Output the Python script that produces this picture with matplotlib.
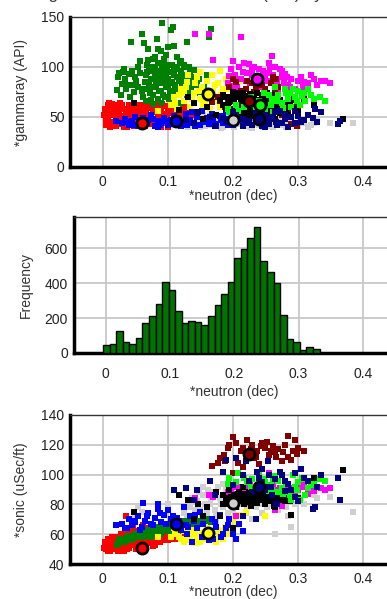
import matplotlib
matplotlib.use("Agg")
import matplotlib.pyplot as plt
import numpy as np

plt.rcParams['font.family'] = ['Liberation Sans', 'DejaVu Sans']

# ---------------- data ----------------
# point clouds per class: (neutron, gammaray, sonic)
red_pts = [(0.005,42,50),(0.005,48,53),(0.008,55,56),(0.010,60,52),(0.010,64,55),(0.012,45,49),(0.015,52,51),
           (0.018,58,57),(0.020,41,50),(0.020,62,54),(0.022,47,58),(0.025,55,52),(0.028,50,60),(0.030,43,55),
           (0.032,58,53),(0.035,46,62),(0.036,53,72),(0.038,40,57),(0.040,57,51),(0.042,49,60),(0.045,44,54),
           (0.047,55,64),(0.050,60,56),(0.052,42,52),(0.055,51,62),(0.057,62,58),(0.060,46,51),(0.062,55,66),
           (0.065,41,55),(0.067,59,60),(0.070,49,54),(0.072,64,62),(0.075,44,57),(0.077,56,52),(0.080,61,64),
           (0.082,47,56),(0.085,53,60),(0.087,42,55),(0.090,58,62),(0.092,63,57),(0.095,45,59),(0.097,51,63),
           (0.100,56,56),(0.102,60,61),(0.105,43,58),(0.107,54,65),(0.110,49,57),(0.112,58,60),(0.115,62,63),
           (0.118,52,59),(0.120,46,61),(0.125,55,58),(0.130,50,62),(0.135,57,60),(0.140,53,64),(0.015,63,58),
           (0.030,62,50),(0.060,40,53),(0.045,61,59),(0.090,40,58),(0.002,52,51),(0.003,58,55),
           (0.006,45,54),(0.009,50,49),(0.013,57,53),(0.016,61,50),(0.019,44,56),(0.023,52,49),(0.026,59,55),
           (0.029,46,51),(0.033,40,49),(0.034,51,56),(0.037,56,50),(0.041,45,58),(0.044,53,53),(0.046,59,61),
           (0.049,41,55),(0.051,48,50),(0.054,57,59),(0.056,44,53),(0.059,52,57),(0.061,60,55),(0.064,47,60),
           (0.066,54,52),(0.069,62,58),(0.071,43,56),(0.074,51,61),(0.076,59,55),(0.079,45,59),(0.081,55,53),
           (0.084,62,57),(0.086,48,61),(0.089,56,55),(0.091,44,60),(0.094,53,56),(0.096,61,62),(0.099,48,57),
           (0.101,40,60),(0.104,57,59),(0.106,63,57),(0.109,46,61),(0.111,53,64),(0.114,42,60),(0.117,59,62),
           (0.119,55,57),(0.122,50,63),(0.127,60,61),(0.132,47,59),(0.138,52,62),(0.012,40,52),(0.027,64,53),
           (0.040,62,57),(0.008,62,57),(0.068,46,64),(0.058,49,61)]
blue_pts = [(0.030,44,67),(0.035,48,64),(0.040,42,70),(0.045,46,66),(0.050,50,68),(0.055,41,72),(0.060,45,65),
            (0.062,49,81),(0.065,43,69),(0.070,47,74),(0.075,52,67),(0.080,41,71),(0.085,46,77),(0.090,44,68),
            (0.095,49,73),(0.100,42,76),(0.105,47,70),(0.110,51,66),(0.112,44,68),(0.115,48,71),(0.120,41,63),
            (0.125,45,78),(0.128,53,66),(0.130,42,60),(0.135,47,72),(0.138,55,55),(0.140,44,69),(0.145,50,64),
            (0.150,42,75),(0.152,56,58),(0.155,46,67),(0.160,49,62),(0.163,43,56),(0.168,53,70),(0.170,47,57),
            (0.175,41,65),(0.180,51,73),(0.185,44,60),(0.190,55,64),(0.195,48,70),(0.200,42,60),(0.205,46,57),
            (0.210,50,67),(0.215,44,62),(0.085,40,80),(0.020,46,66),
            (0.038,45,64),(0.048,42,69),(0.058,47,63),(0.068,44,72),(0.078,48,66),(0.088,42,74),(0.098,46,67),
            (0.108,43,72),(0.118,47,69),(0.132,44,65),(0.142,41,73),(0.158,45,60),(0.172,43,68),(0.182,47,58),
            (0.192,42,66)]
green_pts = [(0.092,144,63),(0.108,140,66),(0.105,137,64),(0.167,138,68),(0.164,130,70),(0.060,133,60),
             (0.044,125,58),(0.064,124,61),(0.083,128,62),(0.110,121,65),(0.130,125,68),(0.090,116,63),
             (0.097,112,64),(0.077,108,61),(0.070,107,60),(0.058,106,59),(0.120,106,66),(0.133,100,67),
             (0.140,97,69),(0.031,95,56),(0.024,90,54),(0.030,83,57),(0.022,77,53),(0.028,72,55),(0.040,93,58),
             (0.045,96,57),(0.038,82,59),(0.055,80,60),(0.067,66,62),(0.077,63,60),(0.062,70,58),(0.065,85,61),
             (0.068,95,63),(0.070,78,59),(0.072,100,62),(0.075,88,64),(0.078,72,61),(0.080,94,60),(0.082,82,63),
             (0.085,104,65),(0.085,68,62),(0.088,90,61),(0.090,76,64),(0.092,98,66),(0.094,86,62),(0.096,70,63),
             (0.098,92,65),(0.100,80,67),(0.100,102,64),(0.103,74,66),(0.105,95,63),(0.107,85,68),(0.110,68,65),
             (0.110,100,67),(0.113,78,66),(0.115,90,64),(0.118,72,68),(0.120,96,66),(0.122,84,69),(0.125,76,67),
             (0.128,92,65),(0.130,70,68),(0.133,86,66),(0.136,78,70),(0.140,90,68),(0.145,82,66),(0.150,75,69),
             (0.095,108,64),(0.080,110,62),(0.115,110,67),(0.125,102,68),(0.105,65,62),(0.075,67,58),
             (0.090,64,60),(0.120,64,63),(0.135,95,67),(0.035,88,55),(0.050,90,58),(0.048,75,60),(0.042,70,56),
             (0.055,100,61),(0.025,94,57),
             (0.063,78,60),(0.066,92,59),(0.069,102,61),(0.071,84,60),(0.073,74,62),(0.076,96,60),(0.079,80,63),
             (0.081,100,61),(0.083,88,62),(0.086,76,63),(0.087,96,64),(0.089,84,62),(0.091,104,63),(0.093,72,65),
             (0.095,92,63),(0.097,80,64),(0.099,98,62),(0.101,88,65),(0.102,68,63),(0.104,84,66),(0.106,102,64),
             (0.108,76,65),(0.109,92,66),(0.111,82,64),(0.114,98,66),(0.116,74,67),(0.117,86,65),(0.119,104,67),
             (0.121,78,66),(0.124,90,68),(0.127,82,66),(0.129,100,67),(0.131,76,69),(0.134,90,68),(0.138,84,67),
             (0.142,74,70),(0.148,88,68),(0.156,80,70),(0.160,92,69),(0.052,86,58),(0.058,94,59),(0.047,82,57),
             (0.036,78,56),(0.033,98,55),(0.060,76,58),(0.100,120,64),(0.085,118,63),(0.070,118,61)]
yellow_pts = [(0.105,62,58),(0.110,70,64),(0.115,58,60),(0.120,78,57),(0.125,66,62),(0.130,85,59),(0.135,60,56),
              (0.140,74,63),(0.145,90,58),(0.150,68,55),(0.152,80,61),(0.155,62,57),(0.160,86,64),(0.162,72,60),
              (0.165,58,56),(0.168,92,62),(0.170,76,58),(0.175,66,55),(0.178,84,63),(0.180,60,60),(0.185,78,57),
              (0.188,70,65),(0.190,88,61),(0.195,64,68),(0.200,80,70),(0.205,72,66),(0.210,86,73),(0.150,95,59),
              (0.180,96,62),(0.125,74,55),(0.220,78,75),(0.250,70,72),(0.085,56,58),(0.140,55,54),(0.200,58,71),
              (0.112,64,62),(0.118,72,58),(0.128,80,64),(0.138,68,60),(0.148,76,57),(0.158,66,60),(0.172,82,58),
              (0.182,72,62),(0.192,78,60),(0.198,90,63),(0.142,84,61),(0.132,92,62)]
magenta_pts = [(0.142,133,84),(0.164,133,86),(0.213,130,88),(0.260,111,90),(0.170,107,85),(0.200,106,87),
               (0.210,100,89),(0.195,91,86),(0.200,81,84),(0.215,95,90),(0.220,86,92),(0.225,103,88),(0.230,92,86),
               (0.235,80,91),(0.240,98,89),(0.245,86,84),(0.250,78,88),(0.255,94,93),(0.260,84,87),(0.265,100,90),
               (0.270,74,80),(0.275,90,83),(0.280,93,86),(0.285,82,89),(0.290,88,91),(0.295,78,88),(0.300,86,90),
               (0.308,80,92),(0.310,85,94),(0.320,92,93),(0.325,88,89),(0.335,86,91),(0.342,86,90),(0.350,84,91),
               (0.265,76,76),(0.230,98,83),(0.255,104,101),(0.275,96,79),(0.205,88,72),(0.250,90,95),
               (0.192,84,88),(0.197,98,90),(0.203,92,86),(0.207,80,92),(0.212,88,88),(0.218,104,90),(0.222,94,86),
               (0.227,84,93),(0.232,100,89),(0.237,90,91),(0.242,80,87),(0.247,96,92),(0.252,86,90),(0.257,100,88),
               (0.262,92,94),(0.268,86,85),(0.272,98,91),(0.278,84,87),(0.283,90,92),(0.288,80,86),(0.305,90,93),
               (0.315,84,87),(0.330,82,92)]
gray_pts = [(0.120,44,66),(0.130,48,72),(0.135,42,78),(0.140,50,70),(0.145,45,82),(0.150,40,76),(0.155,47,86),
            (0.160,43,74),(0.165,51,80),(0.170,46,88),(0.175,41,72),(0.180,49,84),(0.185,44,78),(0.190,52,90),
            (0.195,42,82),(0.200,47,76),(0.205,50,86),(0.210,43,92),(0.215,46,80),(0.220,41,74),(0.225,49,88),
            (0.230,44,82),(0.235,51,78),(0.240,42,86),(0.245,47,74),(0.250,45,90),(0.255,41,80),(0.260,49,84),
            (0.265,44,60),(0.270,46,76),(0.275,42,88),(0.280,48,82),(0.285,43,72),(0.290,45,65),(0.300,41,86),
            (0.310,44,80),(0.320,42,90),(0.330,46,84),(0.350,44,85),(0.385,44,75),(0.050,46,72),(0.055,44,78),
            (0.060,47,75),(0.100,45,80),(0.110,42,70),(0.155,52,92),(0.185,40,94),(0.230,39,70),
            (0.125,46,74),(0.132,40,80),(0.138,47,84),(0.142,43,76),(0.148,49,88),(0.152,44,72),(0.158,41,80),
            (0.162,48,90),(0.167,42,84),(0.172,50,76),(0.177,44,92),(0.182,39,80),(0.187,47,86),(0.192,43,74),
            (0.197,50,88),(0.202,40,84),(0.207,45,78),(0.212,49,90),(0.217,42,86),(0.222,47,78),(0.227,40,92),
            (0.232,46,84),(0.237,43,90),(0.242,49,80),(0.247,40,84),(0.252,47,78),(0.257,43,88),(0.262,40,82),
            (0.267,48,86),(0.272,42,80),(0.277,45,84),(0.282,40,78),(0.288,47,88),(0.295,43,80),(0.305,46,84),
            (0.315,40,88),(0.325,44,86),(0.145,46,68),(0.160,44,70),(0.175,47,68)]
black_pts = [(0.048,64,75),(0.131,70,83),(0.147,55,80),(0.370,48,103),(0.180,67,72),(0.200,75,64),(0.118,57,86),
             (0.160,60,78),(0.175,52,88),(0.185,72,80),(0.190,58,84),(0.195,65,90),(0.200,50,82),(0.205,62,86),
             (0.205,70,78),(0.210,55,88),(0.212,66,82),(0.215,74,92),(0.218,58,80),(0.220,63,85),(0.222,52,83),
             (0.225,68,88),(0.228,57,79),(0.230,62,86),(0.232,72,90),(0.235,54,84),(0.238,66,81),(0.240,60,87),
             (0.242,50,89),(0.245,70,83),(0.248,56,86),(0.250,64,80),(0.252,74,91),(0.255,58,85),(0.258,52,82),
             (0.260,67,88),(0.263,61,79),(0.266,55,86),(0.270,70,84),(0.275,60,90),(0.280,64,82),(0.285,52,88),
             (0.290,68,73),(0.295,58,85),(0.300,55,84),(0.325,62,98),(0.155,48,72),(0.140,64,70),(0.265,48,78),
             (0.192,62,83),(0.197,70,85),(0.198,55,82),(0.202,66,86),(0.203,58,84),(0.207,74,83),(0.208,52,87),
             (0.211,61,84),(0.213,69,86),(0.216,53,82),(0.217,64,87),(0.219,71,83),(0.221,56,86),(0.223,66,82),
             (0.224,60,87),(0.226,73,85),(0.227,51,83),(0.229,65,86),(0.231,57,84),(0.233,69,82),(0.234,61,86),
             (0.236,50,84),(0.237,74,87),(0.239,56,85),(0.241,67,83),(0.243,62,86),(0.244,53,84),(0.246,72,86),
             (0.247,60,83),(0.249,68,87),(0.251,54,85),(0.253,62,86),(0.254,70,84),(0.256,49,87),(0.257,64,84),
             (0.259,59,83),(0.261,72,86),(0.262,53,84),(0.264,66,87),(0.267,58,84),(0.268,64,86),(0.272,54,85),
             (0.273,67,83),(0.277,62,86),(0.282,57,84),(0.288,62,82),(0.185,62,86),(0.190,70,80)]
lime_pts = [(0.292,78,100),(0.306,71,98),(0.310,74,97),(0.311,66,86),(0.334,70,97),(0.342,66,96),(0.282,74,94),
            (0.270,72,96),(0.277,59,87),(0.260,68,90),(0.290,60,83),(0.208,56,101),(0.218,60,98),(0.193,58,94),
            (0.195,55,98),(0.230,62,97),(0.245,64,92),(0.250,58,95),(0.255,72,89),(0.265,80,99),(0.275,64,91),
            (0.285,68,88),(0.295,70,92),(0.300,76,95),(0.303,62,83),(0.320,72,93),(0.240,66,100),(0.235,56,90),
            (0.262,55,97),(0.315,78,91),
            (0.222,64,95),(0.228,70,92),(0.248,74,97),(0.258,62,93),(0.268,66,88),(0.280,78,96),(0.298,66,90),
            (0.325,68,94),(0.288,74,86),(0.205,62,95)]
darkred_pts = [(0.200,88,125),(0.205,85,121),(0.295,60,123),(0.310,68,116),(0.293,67,116),(0.277,60,115),
               (0.267,88,112),(0.262,90,119),(0.249,78,118),(0.245,82,121),(0.225,68,114),(0.215,72,118),
               (0.193,64,118),(0.186,62,113),(0.180,66,111),(0.168,65,106),(0.216,60,105),(0.208,70,108),
               (0.200,58,101),(0.232,75,111),(0.238,62,116),(0.255,70,113),(0.270,80,117),(0.285,52,112),
               (0.290,43,110),(0.298,41,114),(0.275,52,109),(0.230,84,120),(0.240,56,107),(0.220,78,109),
               (0.178,70,108),(0.252,66,122),(0.265,74,115),(0.285,56,126),
               (0.195,80,120),(0.212,76,116),(0.222,86,123),(0.228,70,117),(0.236,80,112),(0.243,66,119),
               (0.258,84,116),(0.280,62,120),(0.300,58,118),(0.188,60,109)]
navy_pts = [(0.326,58,78),(0.323,49,77),(0.300,51,82),(0.295,44,101),(0.362,43,98),(0.365,46,83),(0.280,48,96),
            (0.265,55,97),(0.255,43,100),(0.268,42,80),(0.215,48,100),(0.190,45,110),(0.165,50,96),(0.145,54,90),
            (0.128,47,91),(0.205,52,111),(0.220,44,109),(0.254,46,109),(0.237,50,102),(0.172,41,86),(0.200,55,93),
            (0.280,52,89),(0.296,56,85),(0.266,45,80),(0.216,41,72),(0.236,54,70),(0.310,47,98),(0.245,58,95),
            (0.230,42,88),(0.250,52,92),(0.285,40,94),(0.260,50,86),(0.240,45,98),(0.140,44,83),(0.110,46,90),
            (0.185,49,102),(0.305,45,104),
            (0.225,46,96),(0.245,41,104),(0.258,48,92),(0.275,44,100),(0.290,50,90),(0.315,52,96),(0.330,45,92),
            (0.272,56,102),(0.335,55,100),(0.250,40,90)]

# class means shown as circles
means_gr = [('#ff0000',0.060,44),('#0000ff',0.113,46),('#ffff00',0.162,73),('#d0d0d0',0.200,47),
            ('#ff00ff',0.237,88),('#800000',0.225,66),('#00ff00',0.242,62),('#000080',0.240,48)]
means_dt = [('#ff0000',0.060,51),('#0000ff',0.113,67),('#ffff00',0.162,61),('#d0d0d0',0.200,81),
            ('#800000',0.225,114),('#000000',0.220,84),('#000080',0.240,92)]

# histogram of neutron
hist_counts = [48,54,124,62,54,87,171,210,283,407,361,239,171,186,178,163,210,277,340,407,
               545,597,660,720,530,462,400,217,78,64,19,35,25]
hist_start = -0.004
hist_width = 0.0102

classes = [('#d0d0d0', gray_pts), ('#ff0000', red_pts), ('#008000', green_pts), ('#ffff00', yellow_pts),
           ('#0000ff', blue_pts), ('#ff00ff', magenta_pts), ('#800000', darkred_pts), ('#000000', black_pts),
           ('#00ff00', lime_pts), ('#000080', navy_pts)]

xticks = [0, 0.1, 0.2, 0.3, 0.4]
xticklabels = ['0', '0.1', '0.2', '0.3', '0.4']

# ---------------- figure ----------------
W, H = 387, 599
fig = plt.figure(figsize=(W/100, H/100), dpi=100)

def px_axes(left, right, top, bottom):
    return fig.add_axes([left/W, (H-bottom)/H, (right-left)/W, (bottom-top)/H])

ax1 = px_axes(70, 395.5, 17, 167)
ax2 = px_axes(73.5, 395, 217, 353)
ax3 = px_axes(70, 395.5, 415, 564)

tick_col = '#222222'

def style(ax, ylim, yticks, ylabel, xpad, xlab_y, ylab_x):
    ax.set_xlim(-0.05, 0.45)
    ax.set_ylim(*ylim)
    ax.set_xticks(xticks)
    ax.set_xticklabels(xticklabels)
    ax.set_yticks(yticks)
    ax.grid(True, color='#c8c8c8', linewidth=1.3)
    ax.set_axisbelow(True)
    ax.tick_params(length=0, labelsize=10, colors=tick_col)
    ax.tick_params(axis='x', pad=xpad)
    ax.tick_params(axis='y', pad=4)
    for s in ['left', 'bottom']:
        ax.spines[s].set_linewidth(2.5)
        ax.spines[s].set_color('black')
    ax.spines['top'].set_linewidth(1)
    ax.spines['top'].set_color('#333333')
    ax.spines['right'].set_visible(False)
    ax.set_xlabel('*neutron (dec)', fontsize=10, color='#333333')
    ax.set_ylabel(ylabel, fontsize=10, color='#333333')
    ax.xaxis.set_label_coords(0.5, xlab_y)
    ax.yaxis.set_label_coords(ylab_x, 0.5)

# panel 1: gammaray vs neutron
for col, pts in classes:
    arr = np.array(pts)
    ax1.scatter(arr[:, 0], arr[:, 1], s=18, marker='s', color=col, linewidths=0, zorder=3)
for col, n, v in means_gr:
    ax1.plot([n], [v], 'o', ms=8, mfc=col, mec='black', mew=2, zorder=5)
style(ax1, (0, 150), [0, 50, 100, 150], '*gammaray (API)', 6, -0.145, -0.129)

# panel 2: histogram
lefts = [hist_start + i*hist_width for i in range(len(hist_counts))]
ax2.bar(lefts, hist_counts, width=hist_width, align='edge', color='#007400',
        edgecolor='black', linewidth=1, zorder=3)
style(ax2, (0, 780), [0, 200, 400, 600], 'Frequency', 10, -0.235, -0.126)

# panel 3: sonic vs neutron
for col, pts in classes:
    arr = np.array(pts)
    ax3.scatter(arr[:, 0], arr[:, 2], s=18, marker='s', color=col, linewidths=0, zorder=3)
for col, n, v in means_dt:
    ax3.plot([n], [v], 'o', ms=8, mfc=col, mec='black', mew=2, zorder=5)
style(ax3, (40, 140), [40, 60, 80, 100, 120, 140], '*sonic (uSec/ft)', 6, -0.14, -0.129)

# clipped title at very top (only descenders visible, as in the reference)
fig.text(30/W, 1 + 0.5/H, 'Logs versus neutron and sonic (API) by zone', fontsize=12,
         color='#333333', ha='left', va='baseline')

fig.savefig('out.png', dpi=100)
